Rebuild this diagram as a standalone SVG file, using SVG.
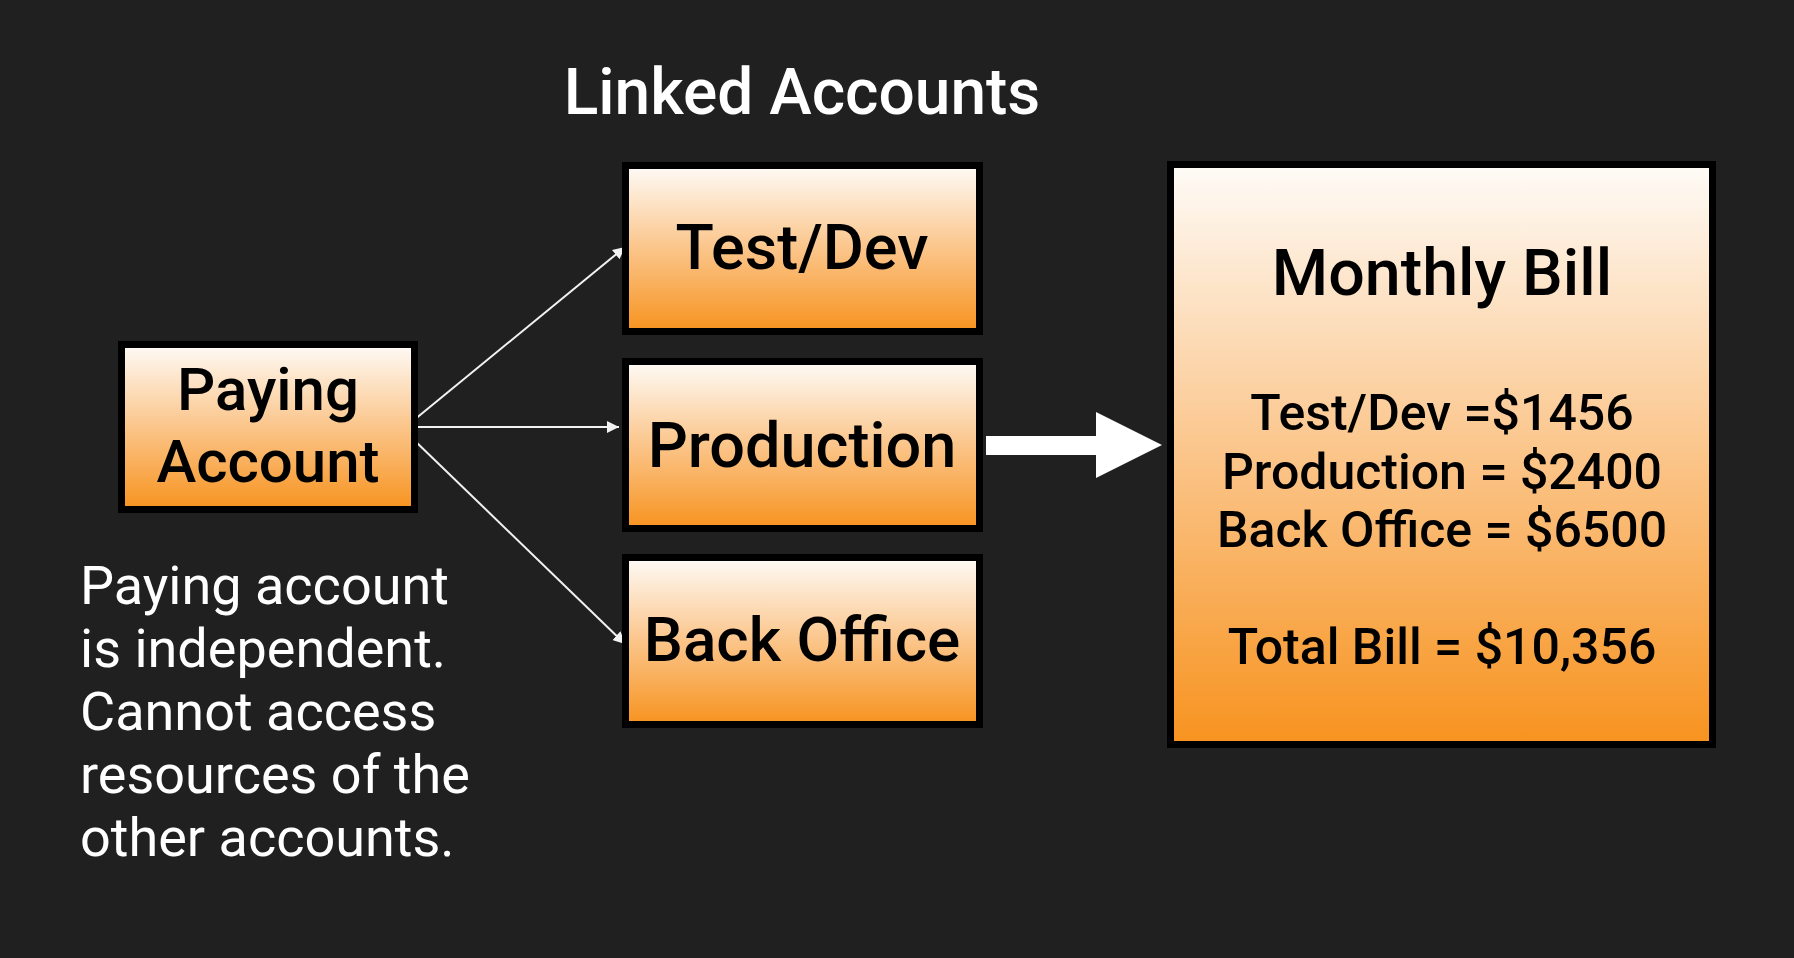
<svg xmlns="http://www.w3.org/2000/svg" width="1794" height="958" viewBox="0 0 1794 958">
<style>
.box{stroke:#000;stroke-width:7;fill:url(#og)}
.lbl{font-family:Roboto,"Liberation Sans",sans-serif;font-weight:500;fill:#000;text-anchor:middle}
.wt{font-family:Roboto,"Liberation Sans",sans-serif;fill:#fff}
.conn{stroke:#f2f2f2;stroke-width:2;fill:none;marker-end:url(#ah)}
</style>
<defs>
<linearGradient id="og" x1="0" y1="0" x2="0" y2="1">
<stop offset="0" stop-color="#fefbf7"/>
<stop offset="0.5" stop-color="#fbc58a"/>
<stop offset="1" stop-color="#f7931f"/>
</linearGradient>
<marker id="ah" viewBox="0 0 10 10" refX="10" refY="5" markerWidth="6" markerHeight="6" markerUnits="strokeWidth" orient="auto">
<path d="M0,0 L10,5 L0,10 z" fill="#f2f2f2"/>
</marker>
</defs>
<rect width="1794" height="958" fill="#202020"/>
<text class="wt" x="802" y="114" font-size="64" font-weight="500" text-anchor="middle">Linked Accounts</text>
<g id="connectors">
<line class="conn" x1="414" y1="420" x2="625" y2="247"/>
<line class="conn" x1="418" y1="427" x2="619" y2="427"/>
<line class="conn" x1="414" y1="440" x2="625" y2="644"/>
<polygon points="986,436 1096,436 1096,412 1162,445 1096,478 1096,455 986,455" fill="#fff"/>
</g>
<g id="paying">
<rect class="box" x="121.5" y="344.5" width="293" height="165"/>
<text class="lbl" x="268" y="410" font-size="60">Paying</text>
<text class="lbl" x="268" y="482" font-size="60">Account</text>
</g>
<g id="testdev">
<rect class="box" x="625.5" y="165.5" width="354" height="166"/>
<text class="lbl" x="802" y="269" font-size="63">Test/Dev</text>
</g>
<g id="production">
<rect class="box" x="625.5" y="361.5" width="354" height="167"/>
<text class="lbl" x="802" y="467" font-size="63">Production</text>
</g>
<g id="backoffice">
<rect class="box" x="625.5" y="557.5" width="354" height="167"/>
<text class="lbl" x="802" y="661" font-size="62">Back Office</text>
</g>
<g id="monthly">
<rect class="box" x="1170.5" y="164.5" width="542" height="580"/>
<text class="lbl" x="1442" y="295" font-size="64.5">Monthly Bill</text>
<text class="lbl" x="1442" y="430" font-size="50">Test/Dev =$1456</text>
<text class="lbl" x="1442" y="489" font-size="50">Production = $2400</text>
<text class="lbl" x="1442" y="547" font-size="50">Back Office = $6500</text>
<text class="lbl" x="1442" y="664" font-size="50">Total Bill = $10,356</text>
</g>
<g id="note">
<text class="wt" x="80" y="604" font-size="54">Paying account</text>
<text class="wt" x="80" y="667" font-size="54">is independent.</text>
<text class="wt" x="80" y="730" font-size="54">Cannot access</text>
<text class="wt" x="80" y="793" font-size="54">resources of the</text>
<text class="wt" x="80" y="856" font-size="54">other accounts.</text>
</g>
</svg>
